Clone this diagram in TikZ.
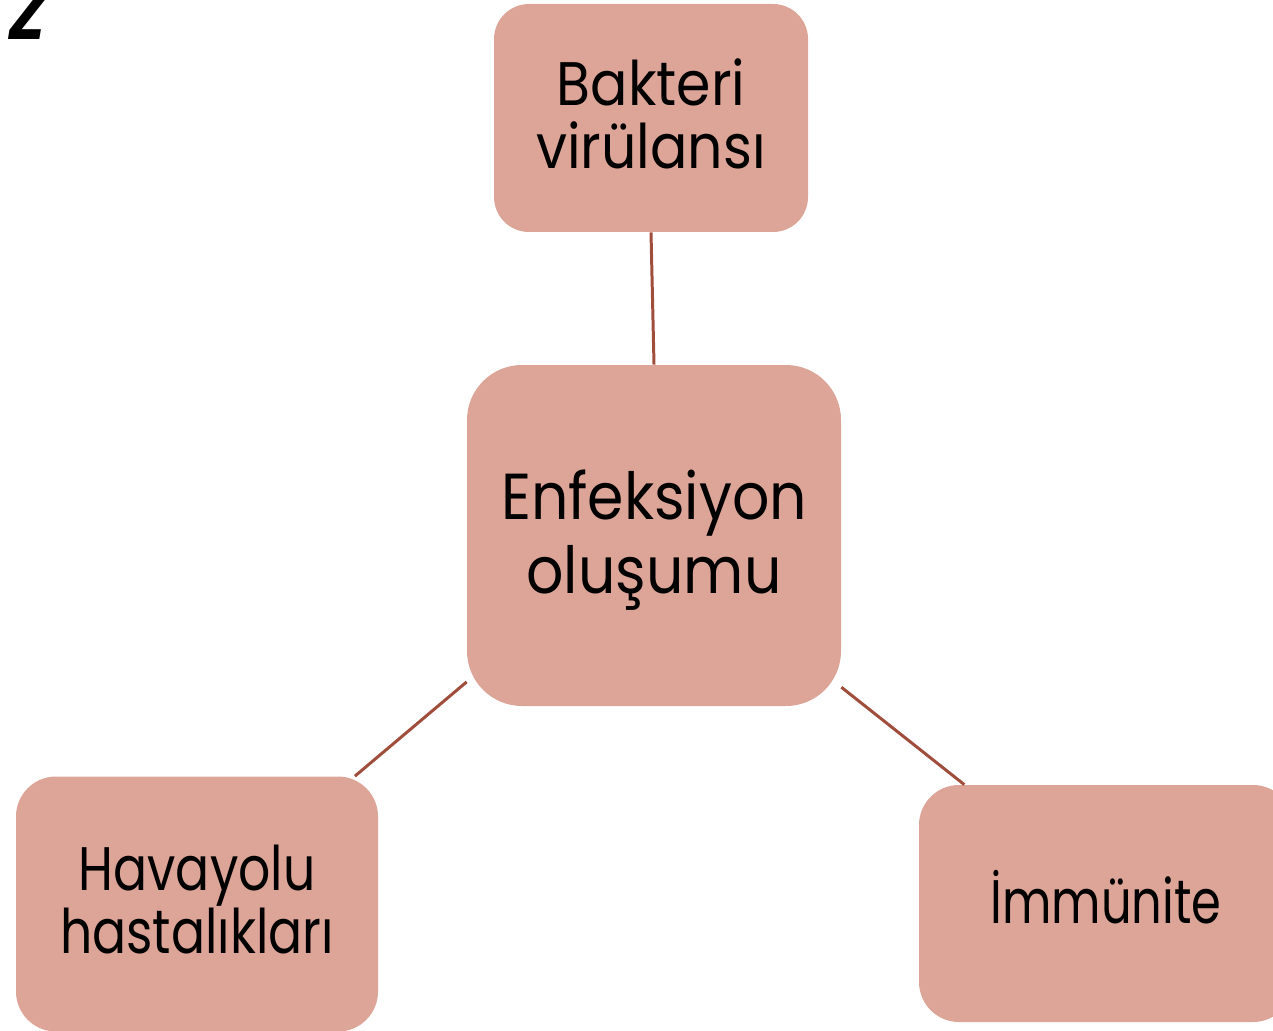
\documentclass[tikz,border=0pt]{standalone}
\usepackage{fontspec}
\setmainfont[FakeStretch=0.9]{Poppins}
\newfontfamily\zfont[FakeStretch=0.9]{Poppins}
\newfontfamily\narrowA[FakeStretch=0.82]{Poppins}
\newfontfamily\narrowB[FakeStretch=0.78]{Poppins}
\definecolor{boxfill}{RGB}{221,165,152}
\definecolor{linkcol}{RGB}{160,77,60}
\begin{document}
\begin{tikzpicture}[x=0.02cm,y=-0.02cm,
  card/.style={fill=boxfill,draw=none,inner sep=0pt},
  txt/.style={align=center,inner sep=0pt,font=\fontsize{35}{36}\selectfont},
  link/.style={draw=linkcol,line width=1.7pt}]
\useasboundingbox (0,0) rectangle (1273,1030);
\begin{scope}
\clip (0,0) rectangle (1273,1030);
\node[anchor=base west,font=\zfont\bfseries\itshape\fontsize{40}{40}\selectfont,inner sep=0pt] (zz) at (8,40) {Z};
\node[card,rounded corners=0.7cm,minimum width=314*0.02cm,minimum height=228*0.02cm] (bak) at (651,118) {};
\node[card,rounded corners=1.1cm,minimum width=374*0.02cm,minimum height=341*0.02cm] (enf) at (654,535.5) {};
\node[card,rounded corners=0.8cm,minimum width=362*0.02cm,minimum height=255*0.02cm] (hav) at (197,904) {};
\node[card,rounded corners=0.8cm,minimum width=374*0.02cm,minimum height=237*0.02cm] (imm) at (1106,903.5) {};
\node[txt] (bakt) at (651,114) {Bakteri\\vir\"ulans\i};
\node[txt,font=\fontsize{37}{42.5}\selectfont] (enft) at (654,540) {Enfeksiyon\\olu\c{s}umu};
\node[txt,font=\narrowA\fontsize{35}{36}\selectfont] (havt) at (197,899.5) {Havayolu\\hastal\i kla\-r\i};
\node[txt,font=\narrowB\fontsize{35}{36}\selectfont] (immt) at (1106,897.5) {\.Imm\"unite};
\end{scope}
\draw[link] (bak.south) -- (enf.north);
\draw[link] (enf.218.6) -- (hav.39);
\draw[link] (enf.-39) -- (imm.140.9);
\end{tikzpicture}
\end{document}
